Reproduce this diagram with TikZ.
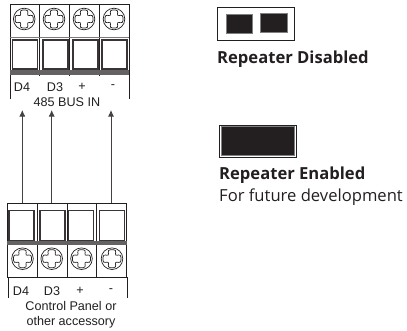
\documentclass[tikz,border=0pt]{standalone}
\usepackage{fontspec}
\setmainfont{Liberation Sans}
\newfontfamily\rightfont{Open Sans}
\usetikzlibrary{arrows.meta}
\definecolor{ink}{HTML}{231F20}
\tikzset{
  lbl/.style={font=\fontsize{12.6}{13}\selectfont,text=ink,inner sep=0pt},
  rlbl/.style={font=\rightfont\fontsize{16.6}{18}\selectfont,text=ink,inner sep=0pt,anchor=base west},
  rbold/.style={rlbl,font=\rightfont\bfseries\fontsize{16.6}{18}\selectfont},
  wire/.style={ink!85,line width=0.8pt,-{Latex[length=6.5pt,width=6pt]}},
  edge/.style={ink,line width=0.75pt},
  screwline/.style={ink,line width=0.7pt},
  cell/.style={draw=ink!90,line width=1.7pt,fill=white,minimum width=25pt,minimum height=29pt,inner sep=0pt},
  blk/.style={fill=ink,draw=black!50,line width=0.4pt,inner sep=0pt},
  jbox/.style={draw=ink,line width=0.7pt,fill=white,inner sep=0pt}
}
\newcommand{\crosshead}[2]{%
  \draw[screwline,rounded corners=3pt]
    (#1-2.6,#2-2.6) -- (#1-4.6,#2-9) -- (#1+4.6,#2-9) -- (#1+2.6,#2-2.6)
    -- (#1+9,#2-4.6) -- (#1+9,#2+4.6) -- (#1+2.6,#2+2.6)
    -- (#1+4.6,#2+9) -- (#1-4.6,#2+9) -- (#1-2.6,#2+2.6)
    -- (#1-9,#2+4.6) -- (#1-9,#2-4.6) -- cycle;
  \draw[screwline] (#1,#2) circle (10.8);
}
\begin{document}
\begin{tikzpicture}[x=1pt,y=-1pt]
\useasboundingbox (0,0) rectangle (407,330);
% top terminal block
\draw[edge] (10,99) -- (10,4) -- (129.3,4) -- (129.3,99);
\foreach \x in {39.3,69.3,99.3} \draw[edge] (\x,4) -- (\x,76);
\fill[ink!70] (10,70) rectangle (129.3,75);
\draw[ink!60,line width=1.5pt] (10,37.5) -- (129.3,37.5);
\foreach \x/\s/\c in {25/24.2/a,55.5/54/b,85.3/84/c,114.7/114/d} {
  \crosshead{\s}{19}
  \node[cell] (t\c) at (\x,54.5) {};
}
\node[lbl] (td4) at (22,87) {D4};
\node[lbl] (td3) at (55,87) {D3};
\node[lbl] (tp) at (82,87) {+};
\node[lbl] (tm) at (113,87) {-};
\node[lbl] (tbus) at (67,102) {485 BUS IN};
% bottom terminal block
\draw[edge] (7.3,277) -- (7.3,203) -- (126.7,203) -- (126.7,277) -- cycle;
\draw[edge] (8.3,277) -- (8.3,298);
\draw[edge] (127.3,277) -- (127.3,298);
\foreach \x in {37.3,67.3,96.7} \draw[edge] (\x,203) -- (\x,277);
\fill[ink!70] (7.3,241) rectangle (126.7,245);
\foreach \x/\s/\c in {21.7/22.5/a,52.5/51.7/b,81/81.5/c,112/112/d} {
  \node[cell,minimum height=30pt] (b\c) at (\x,225.5) {};
  \crosshead{\s}{258.7}
}
\node[lbl] (bd4) at (21,291) {D4};
\node[lbl] (bd3) at (52,291) {D3};
\node[lbl] (bp) at (80,291) {+};
\node[lbl] (bm) at (111,291) {-};
\node[lbl] (bcp) at (71,306) {Control Panel or};
\node[lbl] (bca) at (71,322) {other accessory};
% wires
\coordinate (wa) at (22.3,203);
\coordinate (wb) at (51.7,203);
\coordinate (wc) at (111,203);
\coordinate (ea) at (22.3,110);
\coordinate (eb) at (51.7,110);
\coordinate (ec) at (111,110);
\draw[wire] (wa) -- (ea);
\draw[wire] (wb) -- (eb);
\draw[wire] (wc) -- (ec);
% jumpers
\node[jbox,minimum width=77.4pt,minimum height=32.7pt] (j1) at (256,23.6) {};
\node[blk,minimum width=26.7pt,minimum height=19.3pt] (j1a) at (239.3,23.6) {};
\node[blk,minimum width=26.7pt,minimum height=19.3pt] (j1b) at (274,23) {};
\node[rbold] (t1) at (217,63.3) {Repeater Disabled};
\node[jbox,minimum width=77.4pt,minimum height=32.3pt] (j2) at (258,141.2) {};
\node[blk,minimum width=73.6pt,minimum height=29pt] (j2a) at (257.5,140.5) {};
\node[rbold] (t2) at (219,179) {Repeater Enabled};
\node[rlbl] (t3) at (219,201.7) {For future development};
\end{tikzpicture}
\end{document}
